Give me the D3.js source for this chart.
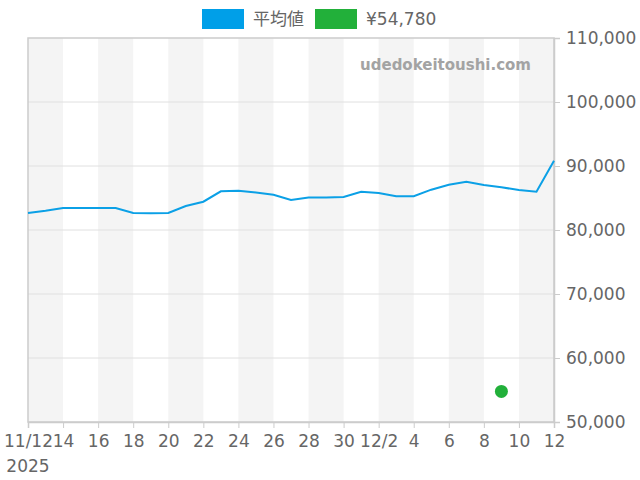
<!DOCTYPE html>
<html><head><meta charset="utf-8">
<script src="https://cdn.jsdelivr.net/npm/d3@7"></script>
<style>body{margin:0;background:#fff}svg{display:block;font-family:"DejaVu Sans","Noto Sans CJK JP",sans-serif}</style>
</head><body><svg id="c" width="640" height="480"></svg>
<script>
const startDate = "2025-11-12";
const avgValues = [82650,83000,83440,83440,83440,83440,82650,82600,82650,83750,84420,86050,86140,85860,85520,84690,85080,85080,85150,85980,85780,85270,85270,86300,87080,87550,87030,86670,86250,85980,90830];
const pointDate = "2025-12-09";
const pointValue = 54780;
const seriesNames = ["平均値", "¥54,780"];
const yTicks = [50000,60000,70000,80000,90000,100000,110000];
const xTickDates = ["2025-11-12","2025-11-14","2025-11-16","2025-11-18","2025-11-20","2025-11-22","2025-11-24","2025-11-26","2025-11-28","2025-11-30","2025-12-02","2025-12-04","2025-12-06","2025-12-08","2025-12-10","2025-12-12"];
const xTickLabels = ["11/12","14","16","18","20","22","24","26","28","30","12/2","4","6","8","10","12"];

const parse = d3.utcParse("%Y-%m-%d");
const t0 = parse(startDate);
const data = avgValues.map((v,i)=>({d:d3.utcDay.offset(t0,i),v}));
const svg = d3.select("#c");
const L=28,R=554,T=38,B=422;
const x = d3.scaleUtc().domain([t0, d3.utcDay.offset(t0,30)]).range([L,R]);
const y = d3.scaleLinear().domain([50000,110000]).range([B,T]);

// bands
const bandStarts = d3.range(0,30,4).map(i=>d3.utcDay.offset(t0,i));
svg.append("g").selectAll("rect").data(bandStarts).join("rect")
  .attr("x",d=>x(d)).attr("width",d=>x(d3.utcDay.offset(d,2))-x(d))
  .attr("y",T).attr("height",B-T).attr("fill","#f4f4f4");

// grid
svg.append("g").selectAll("line").data(yTicks.slice(1,-1)).join("line")
  .attr("x1",L).attr("x2",R).attr("y1",d=>y(d)).attr("y2",d=>y(d))
  .attr("stroke","#e0e0e0").attr("stroke-width",1);

// border
svg.append("rect").attr("x",L).attr("y",T).attr("width",R-L).attr("height",B-T)
  .attr("fill","none").attr("stroke","#ccc").attr("stroke-width",1.5);

// right axis
const ya = svg.append("g").attr("transform",`translate(${R},0)`)
  .call(d3.axisRight(y).tickValues(yTicks).tickFormat(d3.format(",")).tickSize(6).tickPadding(6));
ya.select(".domain").attr("stroke","#ccc").attr("stroke-width",1.5);
ya.selectAll(".tick line").attr("stroke","#ccc");
ya.selectAll("text").attr("fill","#666").style("font-size","17px").style("font-family","DejaVu Sans");

// bottom axis
const xa = svg.append("g").attr("transform",`translate(0,${B})`)
  .call(d3.axisBottom(x).tickValues(xTickDates.map(parse)).tickFormat((d,i)=>xTickLabels[i]).tickSize(6).tickPadding(7));
xa.select(".domain").attr("stroke","#ccc").attr("stroke-width",1.5);
xa.selectAll(".tick line").attr("stroke","#ccc");
xa.selectAll("text").attr("fill","#666").style("font-size","17px").style("font-family","DejaVu Sans");
svg.append("text").attr("x",x(t0)).attr("y",472).attr("text-anchor","middle")
  .attr("fill","#666").style("font-size","17px").text("2025");

// watermark
svg.append("text").attr("x",531).attr("y",70).attr("text-anchor","end")
  .attr("fill","#a3a3a3").style("font-size","15px").style("font-weight","bold").text("udedokeitoushi.com");

// line
svg.append("path").datum(data)
  .attr("d",d3.line().x(d=>x(d.d)).y(d=>y(d.v)))
  .attr("fill","none").attr("stroke","#0ba0e6").attr("stroke-width",2);

// point
svg.append("circle").attr("cx",x(parse(pointDate))).attr("cy",y(pointValue)).attr("r",6.5).attr("fill","#22b03a");

// legend
const colors=["#009fe8","#22b03a"];
const lg = svg.append("g");
const lx=[202,315];
seriesNames.forEach((n,i)=>{
  lg.append("rect").attr("x",lx[i]).attr("y",9).attr("width",42).attr("height",20).attr("fill",colors[i]);
  lg.append("text").attr("x",lx[i]+51).attr("y",25).attr("fill","#666").style("font-size","17px")
    .style("font-family","DejaVu Sans, Noto Sans CJK JP").text(n);
});
</script></body></html>
